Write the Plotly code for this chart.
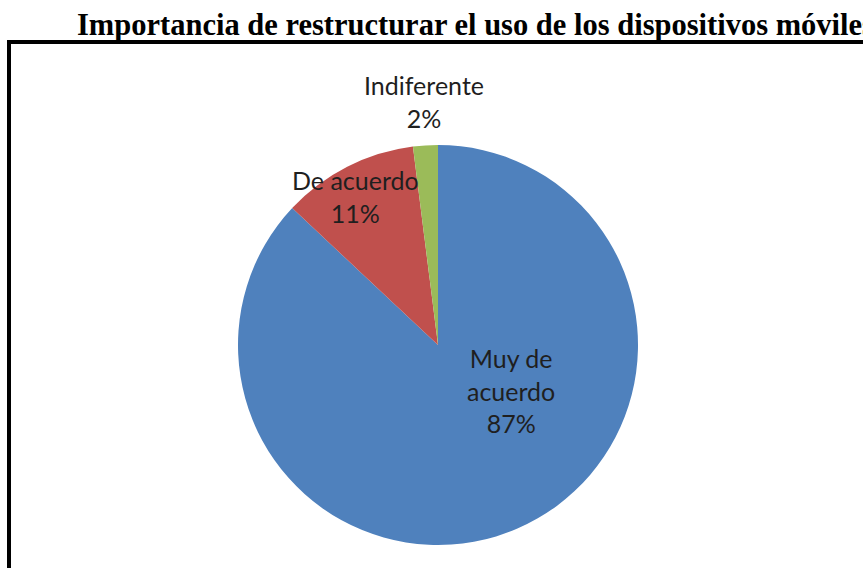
import plotly.graph_objects as go

W, H = 863, 568

categorias = ["Muy de acuerdo", "De acuerdo", "Indiferente"]
porcentajes = [87, 11, 2]
colores = ["#4F81BD", "#C0504D", "#9BBB59"]
etiquetas = ["Muy de<br>acuerdo<br>87%", "De acuerdo<br>11%", "Indiferente<br>2%"]
# label centres in pixels (x, y from top)
pos_etiquetas = [(511, 390), (355, 196), (424, 101)]

titulo = "Importancia de restructurar el uso de los dispositivos móviles"


def px(x, y):
    return x / W, 1 - y / H


cx, cy, r = 438, 345, 200
x0, y1 = px(cx - r, cy - r)
x1, y0 = px(cx + r, cy + r)

fig = go.Figure(go.Pie(
    labels=categorias,
    values=porcentajes,
    marker=dict(colors=colores, line=dict(width=0)),
    sort=False,
    direction="clockwise",
    rotation=0,
    textinfo="none",
    hoverinfo="label+percent",
    domain=dict(x=[x0, x1], y=[y0, y1]),
    showlegend=False,
))

for txt, (x, y) in zip(etiquetas, pos_etiquetas):
    ax, ay = px(x, y)
    fig.add_annotation(x=ax, y=ay, xref="paper", yref="paper", text=txt, showarrow=False,
                       xanchor="center", yanchor="middle",
                       font=dict(family="Lato", size=25, color="#1f1f1f"))

tx, ty = px(75, 25)
fig.add_annotation(x=tx, y=ty, xref="paper", yref="paper", text="<b>" + titulo + "</b>",
                   showarrow=False, xanchor="left", yanchor="middle",
                   font=dict(family="Liberation Serif", size=30.5, color="black"))

# frame of the chart area (runs off the right and bottom edges)
bx0, by0 = px(9, 42)
fig.add_shape(type="rect", xref="paper", yref="paper", x0=bx0, y0=-0.2, x1=1.2, y1=by0,
              line=dict(color="black", width=4))

fig.update_layout(width=W, height=H, margin=dict(l=0, r=0, t=0, b=0),
                  paper_bgcolor="white", plot_bgcolor="white")

# drop the default body margin so the figure fills the window
fig.write_html("out.html", config={"displayModeBar": False},
               post_script="document.body.style.margin='0';")
